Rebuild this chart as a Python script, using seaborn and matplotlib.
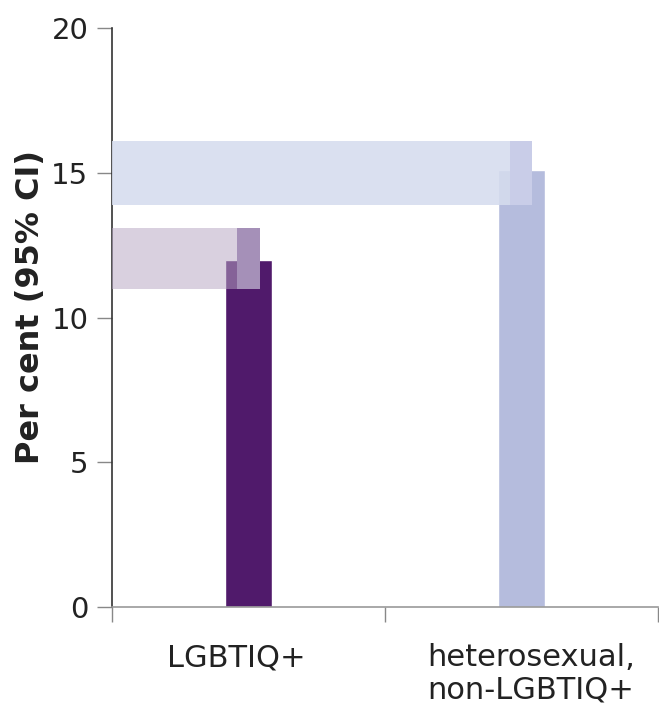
import numpy as np
import pandas as pd
import seaborn as sns
import matplotlib.pyplot as plt

# data
groups = ["LGBTIQ+", "heterosexual,\nnon-LGBTIQ+"]
estimate = [12.0, 15.1]
ci_low = [11.0, 13.9]
ci_high = [13.1, 16.1]

bar_colors = ["#501a6b", "#b5bcdd"]
band_colors = ["#b6a5c3", "#d5dcee"]
band_alpha = [0.52, 0.88]
strip_colors = ["#a590b8", "#c9cde8"]

sns.set_style("white")
plt.rcParams["font.family"] = ["DejaVu Sans"]

df = pd.DataFrame({"group": groups, "value": estimate})

fig = plt.figure(figsize=(6.59, 7.10), dpi=100)
ax = fig.add_axes([0.170, 0.145, 0.828, 0.815])

sns.barplot(data=df, x="group", y="value", hue="group", palette=bar_colors,
            width=0.172, legend=False, ax=ax, saturation=1, zorder=2)

strip_w = 0.082
for i in range(len(groups)):
    # horizontal CI band from the axis to the estimate
    ax.fill_between([-0.5, i + strip_w / 2], ci_low[i], ci_high[i],
                    color=band_colors[i], alpha=band_alpha[i], lw=0, zorder=3)
    # vertical CI strip on the bar
    ax.bar(i, ci_high[i] - ci_low[i], bottom=ci_low[i], width=strip_w,
           color=strip_colors[i], lw=0, zorder=4)

ax.set_xlim(-0.5, 1.5)
ax.set_ylim(0, 20)
ax.set_yticks([0, 5, 10, 15, 20])
ax.tick_params(axis="y", length=11, width=1, color="#888888", pad=6,
               labelsize=21, labelcolor="#222222", left=True)

# category boundaries as major ticks, labels on (slightly nudged) minor ticks
ax.set_xticks([-0.5, 0.5, 1.5])
ax.set_xticklabels([])
ax.set_xticks([-0.044, 1.037], minor=True)
ax.set_xticklabels(groups, minor=True)
ax.tick_params(axis="x", which="major", length=11, width=1, color="#888888",
               bottom=True)
ax.tick_params(axis="x", which="minor", length=0, pad=26, labelsize=22,
               labelcolor="#222222")
for lab in ax.get_xticklabels(minor=True):
    lab.set_linespacing(1.15)
    lab.set_verticalalignment("top")
    lab.set_multialignment("left")

ax.set_xlabel("")
ax.set_ylabel("Per cent (95% CI)", fontsize=23, fontweight="bold",
              color="#222222")
ax.yaxis.set_label_coords(-0.121, 0.518)

sns.despine(ax=ax)
ax.spines["left"].set_color("#333333")
ax.spines["bottom"].set_color("#999999")
ax.spines["left"].set_linewidth(1.2)
ax.spines["bottom"].set_linewidth(1.2)

fig.savefig("out.png", dpi=100)
